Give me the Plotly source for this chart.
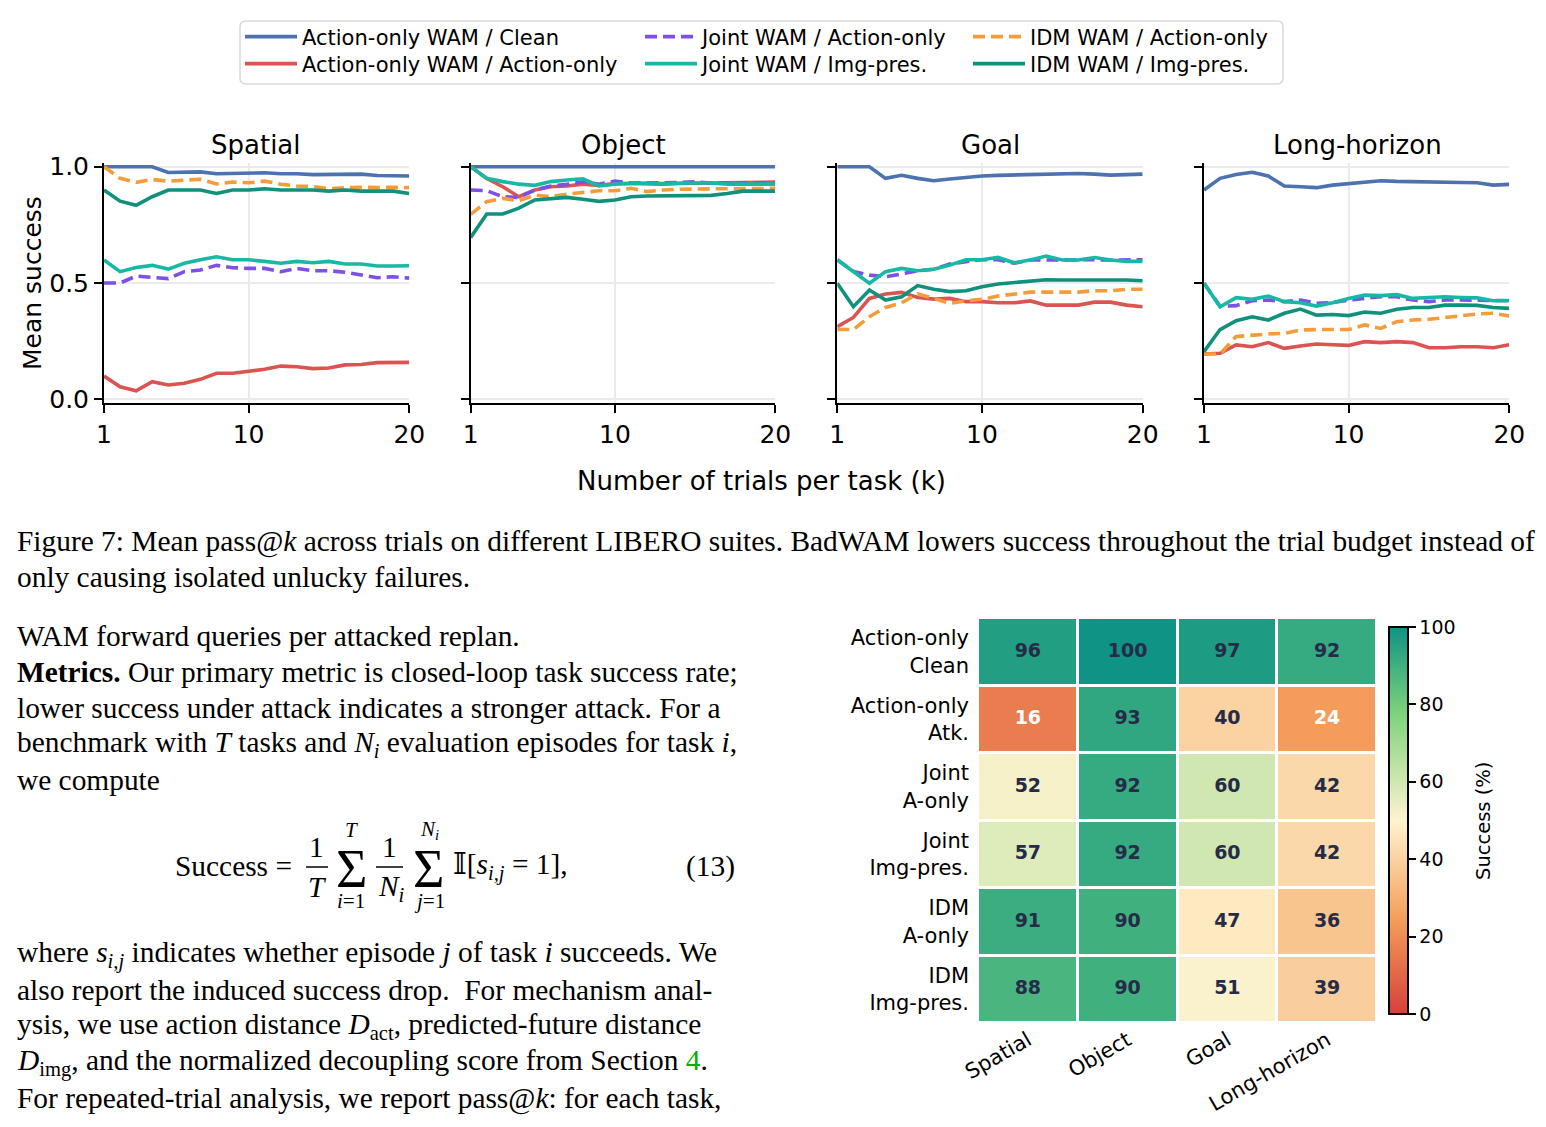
import plotly.graph_objects as go

W, H = 1546, 1127
OFF = 8  # the page body margin shifts the figure by this many pixels
SANS = "DejaVu Sans"
SERIF = "Liberation Serif"


def px(x):
    return (x - OFF) / W


def py(y):
    return 1 - (y - OFF) / H


# ---- line chart data (pass@k, k = 1..20) ----
trials = list(range(1, 21))
suites = ["Spatial", "Object", "Goal", "Long-horizon"]
series_names = [
    "Action-only WAM / Clean",
    "Action-only WAM / Action-only",
    "Joint WAM / Action-only",
    "Joint WAM / Img-pres.",
    "IDM WAM / Action-only",
    "IDM WAM / Img-pres.",
]

clean_spatial = [1.0, 1.0, 1.0, 1.0, 0.975, 0.977, 0.978, 0.970, 0.972, 0.973, 0.974, 0.970, 0.970, 0.966, 0.967, 0.968, 0.968, 0.962, 0.962, 0.960]
attack_spatial = [0.10, 0.054, 0.037, 0.076, 0.062, 0.069, 0.086, 0.112, 0.112, 0.122, 0.129, 0.143, 0.140, 0.132, 0.135, 0.148, 0.150, 0.158, 0.160, 0.159]
joint_a_spatial = [0.50, 0.50, 0.53, 0.524, 0.519, 0.549, 0.556, 0.576, 0.566, 0.563, 0.563, 0.549, 0.563, 0.553, 0.553, 0.546, 0.536, 0.523, 0.527, 0.521]
joint_i_spatial = [0.599, 0.549, 0.567, 0.576, 0.560, 0.585, 0.600, 0.613, 0.600, 0.600, 0.593, 0.585, 0.593, 0.587, 0.593, 0.582, 0.582, 0.573, 0.573, 0.574]
idm_a_spatial = [1.0, 0.95, 0.933, 0.945, 0.938, 0.942, 0.946, 0.926, 0.934, 0.931, 0.938, 0.925, 0.917, 0.915, 0.905, 0.91, 0.912, 0.91, 0.912, 0.91]
idm_i_spatial = [0.90, 0.852, 0.834, 0.871, 0.90, 0.90, 0.90, 0.885, 0.90, 0.90, 0.905, 0.90, 0.90, 0.90, 0.895, 0.90, 0.895, 0.895, 0.895, 0.885]

clean_object = [1.0] * 20
attack_object = [1.0, 0.95, 0.914, 0.871, 0.90, 0.914, 0.917, 0.925, 0.92, 0.928, 0.928, 0.925, 0.925, 0.928, 0.93, 0.93, 0.931, 0.932, 0.934, 0.934]
joint_a_object = [0.90, 0.897, 0.871, 0.868, 0.90, 0.917, 0.924, 0.935, 0.925, 0.938, 0.93, 0.93, 0.93, 0.932, 0.935, 0.93, 0.93, 0.93, 0.93, 0.931]
joint_i_object = [1.0, 0.95, 0.936, 0.925, 0.92, 0.936, 0.943, 0.948, 0.918, 0.925, 0.928, 0.93, 0.928, 0.93, 0.93, 0.93, 0.925, 0.925, 0.925, 0.925]
idm_a_object = [0.795, 0.85, 0.864, 0.854, 0.878, 0.871, 0.882, 0.888, 0.897, 0.897, 0.907, 0.893, 0.90, 0.903, 0.905, 0.905, 0.905, 0.905, 0.907, 0.907]
idm_i_object = [0.696, 0.797, 0.797, 0.822, 0.857, 0.862, 0.868, 0.860, 0.851, 0.857, 0.871, 0.874, 0.874, 0.875, 0.877, 0.877, 0.885, 0.895, 0.895, 0.895]

clean_goal = [1.0, 1.0, 1.0, 0.95, 0.963, 0.95, 0.94, 0.947, 0.954, 0.96, 0.963, 0.965, 0.967, 0.969, 0.97, 0.971, 0.968, 0.964, 0.966, 0.968]
attack_goal = [0.312, 0.352, 0.434, 0.453, 0.46, 0.438, 0.431, 0.434, 0.42, 0.42, 0.415, 0.415, 0.423, 0.405, 0.405, 0.405, 0.418, 0.418, 0.405, 0.398]
joint_a_goal = [0.60, 0.55, 0.534, 0.527, 0.539, 0.553, 0.559, 0.582, 0.592, 0.60, 0.60, 0.585, 0.599, 0.60, 0.599, 0.599, 0.60, 0.599, 0.60, 0.60]
joint_i_goal = [0.599, 0.549, 0.499, 0.549, 0.563, 0.553, 0.559, 0.577, 0.60, 0.60, 0.61, 0.587, 0.599, 0.616, 0.599, 0.599, 0.61, 0.599, 0.593, 0.593]
idm_a_goal = [0.30, 0.30, 0.355, 0.395, 0.415, 0.453, 0.434, 0.413, 0.423, 0.43, 0.444, 0.453, 0.461, 0.461, 0.461, 0.461, 0.467, 0.467, 0.473, 0.473]
idm_i_goal = [0.499, 0.398, 0.47, 0.427, 0.441, 0.489, 0.473, 0.463, 0.467, 0.484, 0.496, 0.503, 0.509, 0.514, 0.513, 0.513, 0.514, 0.514, 0.513, 0.51]

clean_long = [0.90, 0.95, 0.967, 0.976, 0.96, 0.917, 0.914, 0.91, 0.921, 0.928, 0.934, 0.94, 0.937, 0.935, 0.934, 0.933, 0.932, 0.931, 0.921, 0.924]
attack_long = [0.195, 0.198, 0.234, 0.226, 0.244, 0.219, 0.229, 0.238, 0.235, 0.232, 0.248, 0.244, 0.248, 0.244, 0.222, 0.222, 0.226, 0.226, 0.222, 0.235]
joint_a_long = [0.50, 0.40, 0.403, 0.424, 0.427, 0.42, 0.427, 0.413, 0.416, 0.427, 0.434, 0.441, 0.441, 0.427, 0.42, 0.427, 0.427, 0.427, 0.424, 0.424]
joint_i_long = [0.499, 0.398, 0.437, 0.43, 0.444, 0.42, 0.415, 0.401, 0.415, 0.434, 0.448, 0.446, 0.45, 0.434, 0.438, 0.441, 0.438, 0.436, 0.424, 0.425]
idm_a_long = [0.195, 0.195, 0.27, 0.277, 0.281, 0.284, 0.298, 0.30, 0.30, 0.30, 0.32, 0.305, 0.334, 0.341, 0.344, 0.352, 0.358, 0.367, 0.37, 0.358]
idm_i_long = [0.205, 0.30, 0.338, 0.355, 0.341, 0.37, 0.388, 0.362, 0.365, 0.36, 0.375, 0.37, 0.387, 0.395, 0.395, 0.405, 0.405, 0.404, 0.395, 0.391]

suite_data = {
    "Spatial": [clean_spatial, attack_spatial, joint_a_spatial, joint_i_spatial, idm_a_spatial, idm_i_spatial],
    "Object": [clean_object, attack_object, joint_a_object, joint_i_object, idm_a_object, idm_i_object],
    "Goal": [clean_goal, attack_goal, joint_a_goal, joint_i_goal, idm_a_goal, idm_i_goal],
    "Long-horizon": [clean_long, attack_long, joint_a_long, joint_i_long, idm_a_long, idm_i_long],
}

# ---- heatmap data (final success, %) ----
hm_cols = ["Spatial", "Object", "Goal", "Long-horizon"]
hm_rows = ["Action-only<br>Clean", "Action-only<br>Atk.", "Joint<br>A-only",
           "Joint<br>Img-pres.", "IDM<br>A-only", "IDM<br>Img-pres."]
hm_values = [
    [96, 100, 97, 92],
    [16, 93, 40, 24],
    [52, 92, 60, 42],
    [57, 92, 60, 42],
    [91, 90, 47, 36],
    [88, 90, 51, 39],
]

# styles
colors = ["#4c72b0", "#dc5452", "#7d50e8", "#16b9a4", "#f49c3a", "#11907c"]
dashes = ["solid", "solid", "12px,6px", "solid", "12px,6px", "solid"]
# one legend per entry: (left x of legend, row centre y) in page pixels
legend_ids = ["legend", "legend2", "legend3", "legend4", "legend5", "legend6"]
legend_pos = [(240, 37), (240, 64), (640, 37), (640, 64), (968, 37), (968, 64)]

# pixel boxes of the four line panels (x of k=1 .. k=20)
panel_x = [(104, 409.3), (470.7, 775.3), (837.3, 1142.7), (1204, 1509.3)]
panel_y = (163, 403.3)

fig = go.Figure()
layout_axes = {}
for i, suite in enumerate(suites):
    n = "" if i == 0 else str(i + 1)
    for j, vals in enumerate(suite_data[suite]):
        fig.add_trace(go.Scatter(
            x=trials, y=vals, mode="lines", name=series_names[j],
            line=dict(color=colors[j], width=3.6, dash=dashes[j]),
            xaxis="x" + n, yaxis="y" + n,
            legend=legend_ids[j], showlegend=(i == 0),
        ))
    layout_axes["xaxis" + n] = dict(
        domain=[px(panel_x[i][0]), px(panel_x[i][1])], anchor="y" + n,
        range=[1, 20], tickvals=[1, 10, 20], showline=True, linecolor="black",
        linewidth=2, ticks="outside", ticklen=8, tickwidth=2, tickcolor="black",
        showgrid=True, gridcolor="#ebebeb", gridwidth=1.5, zeroline=False,
        automargin=False, tickfont=dict(family=SANS, size=25, color="black"),
    )
    layout_axes["yaxis" + n] = dict(
        domain=[py(panel_y[1]), py(panel_y[0])], anchor="x" + n,
        range=[-0.017, 1.016], tickvals=[0, 0.5, 1.0], tickformat=".1f",
        showticklabels=(i == 0), showline=True, linecolor="black", linewidth=2,
        ticks="outside", ticklen=8, tickwidth=2, tickcolor="black",
        showgrid=True, gridcolor="#ebebeb", gridwidth=1.5, zeroline=False,
        automargin=False, tickfont=dict(family=SANS, size=25, color="black"),
    )

# heatmap
cell_colorscale = [
    [0.0, "#d7403a"], [0.25, "#f4a05c"], [0.5, "#fff3cf"],
    [0.78, "#7cd27a"], [1.0, "#0e9384"],
]
fig.add_trace(go.Heatmap(
    z=hm_values, x=hm_cols, y=hm_rows, zmin=0, zmax=100,
    colorscale=cell_colorscale, xgap=3, ygap=3, xaxis="x5", yaxis="y5",
    showscale=True,
    colorbar=dict(
        x=px(1389), xanchor="left", y=py(820.5), yanchor="middle",
        len=387, lenmode="pixels", thickness=19, thicknessmode="pixels",
        xpad=0, ypad=0, outlinewidth=2, outlinecolor="black",
        tickvals=[0, 20, 40, 60, 80, 100], ticks="outside", ticklen=7,
        tickwidth=2, tickcolor="black",
        tickfont=dict(family=SANS, size=19, color="black"),
    ),
))
cell_x, cell_y, cell_txt, cell_col = [], [], [], []
for r, row in enumerate(hm_values):
    for c, v in enumerate(row):
        cell_x.append(hm_cols[c])
        cell_y.append(hm_rows[r])
        cell_txt.append(str(v))
        cell_col.append("white" if v < 30 else "#262b48")
fig.add_trace(go.Scatter(
    x=cell_x, y=cell_y, text=cell_txt, mode="text", xaxis="x5", yaxis="y5",
    textfont=dict(family=SANS, size=19, color=cell_col, weight="bold"),
    showlegend=False, hoverinfo="skip",
))
layout_axes["xaxis5"] = dict(
    domain=[px(978), px(1377)], anchor="y5", type="category",
    tickangle=-30, showline=False, showgrid=False, ticks="", automargin=False,
    tickfont=dict(family=SANS, size=21, color="black"),
)
layout_axes["yaxis5"] = dict(
    domain=[py(1023), py(618)], anchor="x5", type="category",
    autorange="reversed", showline=False, showgrid=False, ticks="",
    automargin=False, ticklabelstandoff=8,
    tickfont=dict(family=SANS, size=21, color="black"),
)


def note(text, x, y, size=29.4, family=SERIF, xanchor="left", angle=0, color="black"):
    return dict(text=text, x=px(x), y=py(y), xref="paper", yref="paper",
                xanchor=xanchor, yanchor="middle", showarrow=False,
                textangle=angle, font=dict(family=family, size=size, color=color))


annotations = []
title_x = [256, 623, 990, 1357]
for s, tx in zip(suites, title_x):
    annotations.append(note(s, tx, 145, size=26, family=SANS, xanchor="center"))
annotations.append(note("Mean success", 32, 283, size=25, family=SANS, xanchor="center", angle=-90))
annotations.append(note("Number of trials per task (k)", 761, 481, size=26, family=SANS, xanchor="center"))
annotations.append(note("Success (%)", 1483, 821, size=19.5, family=SANS, xanchor="center", angle=-90))

caption = [
    "Figure 7: Mean pass@<i>k</i> across trials on different LIBERO suites. BadWAM lowers success throughout the trial budget instead of",
    "only causing isolated unlucky failures.",
]
for k, line in enumerate(caption):
    annotations.append(note(line, 15, 541 + 36 * k))

body_top = [
    "WAM forward queries per attacked replan.",
    "<b>Metrics.</b> Our primary metric is closed-loop task success rate;",
    "lower success under attack indicates a stronger attack. For a",
    "benchmark with <i>T</i> tasks and <i>N<sub>i</sub></i> evaluation episodes for task <i>i</i>,",
    "we compute",
]
for k, line in enumerate(body_top):
    annotations.append(note(line, 15, 636 + 36 * k))

body_bottom = [
    "where <i>s<sub>i,j</sub></i> indicates whether episode <i>j</i> of task <i>i</i> succeeds. We",
    "also report the induced success drop.  For mechanism anal-",
    "ysis, we use action distance <i>D</i><sub>act</sub>, predicted-future distance",
    "<i>D</i><sub>img</sub>, and the normalized decoupling score from Section <span style='color:#00b000'>4</span>.",
    "For repeated-trial analysis, we report pass@<i>k</i>: for each task,",
]
for k, line in enumerate(body_bottom):
    annotations.append(note(line, 15, 954 + 36 * k))

# equation (13)
annotations += [
    note("Success =", 173, 866),
    note("1", 316, 847, xanchor="center"),
    note("<i>T</i>", 317, 887, xanchor="center"),
    note("Σ", 351, 869, size=54, xanchor="center"),
    note("<i>T</i>", 351, 830, size=21, xanchor="center"),
    note("<i>i</i>=1", 351, 901, size=21, xanchor="center"),
    note("1", 389, 847, xanchor="center"),
    note("<i>N<sub>i</sub></i>", 391, 888, xanchor="center"),
    note("Σ", 428, 869, size=54, xanchor="center"),
    note("<i>N<sub>i</sub></i>", 429, 830, size=21, xanchor="center"),
    note("<i>j</i>=1", 429, 901, size=21, xanchor="center"),
    note("<span style='font-family:DejaVu Serif'>𝕀</span>[<i>s<sub>i,j</sub></i> = 1],", 451, 866),
    note("(13)", 737, 866, xanchor="right"),
]


def rounded_box(x0, y0, x1, y1, r):
    # rounded rectangle path in paper coordinates
    pts = [
        f"M {px(x0 + r)} {py(y0)}", f"L {px(x1 - r)} {py(y0)}",
        f"Q {px(x1)} {py(y0)} {px(x1)} {py(y0 + r)}", f"L {px(x1)} {py(y1 - r)}",
        f"Q {px(x1)} {py(y1)} {px(x1 - r)} {py(y1)}", f"L {px(x0 + r)} {py(y1)}",
        f"Q {px(x0)} {py(y1)} {px(x0)} {py(y1 - r)}", f"L {px(x0)} {py(y0 + r)}",
        f"Q {px(x0)} {py(y0)} {px(x0 + r)} {py(y0)}", "Z",
    ]
    return " ".join(pts)


shapes = [
    dict(type="path", xref="paper", yref="paper", path=rounded_box(240, 21, 1283, 84, 6),
         line=dict(color="#d9d9d9", width=1.5), fillcolor="white", layer="below"),
    dict(type="line", xref="paper", yref="paper", x0=px(306), x1=px(328),
         y0=py(867), y1=py(867), line=dict(color="black", width=1.5)),
    dict(type="line", xref="paper", yref="paper", x0=px(376), x1=px(403),
         y0=py(867), y1=py(867), line=dict(color="black", width=1.5)),
]

legends = {}
for lid, (lx, ly) in zip(legend_ids, legend_pos):
    legends[lid] = dict(
        font=dict(family=SANS, size=21, color="black"), bgcolor="rgba(0,0,0,0)",
        orientation="v", xanchor="left", yanchor="middle",
        x=px(lx), y=py(ly), itemwidth=52,
    )

fig.update_layout(
    width=W, height=H, margin=dict(l=0, r=0, t=0, b=0, autoexpand=False),
    paper_bgcolor="white", plot_bgcolor="white",
    annotations=annotations, shapes=shapes,
    **legends, **layout_axes,
)

fig.write_html("out.html")
